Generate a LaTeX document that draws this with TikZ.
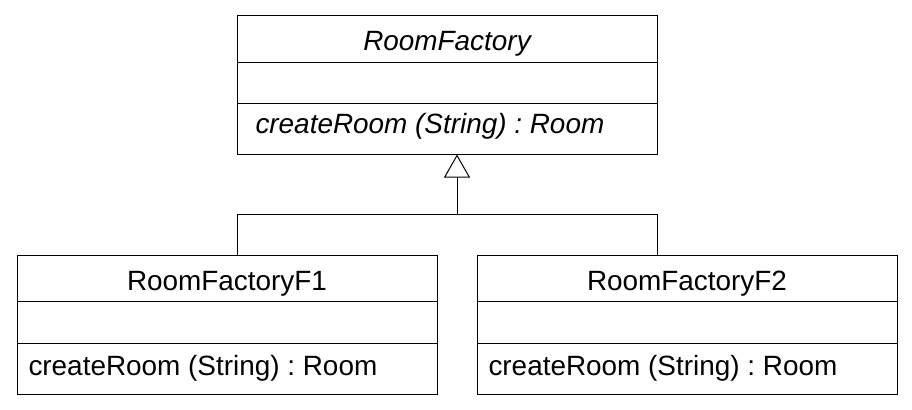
\documentclass[tikz,border=0pt]{standalone}
\usepackage{fontspec}
\setmainfont{Liberation Sans}
\usetikzlibrary{arrows.meta}
\begin{document}
\frenchspacing
\begin{tikzpicture}[x=1bp,y=1bp,line width=1bp,
  classbox/.style={draw,rectangle,inner sep=0pt,minimum width=420bp,minimum height=139bp,anchor=north west},
  lbl/.style={inner sep=0pt,font=\fontsize{28}{32}\selectfont\frenchspacing},
  inh/.style={-{Triangle[open,width=26bp,length=23bp]}}]
\useasboundingbox (0,0) rectangle (912,-409);
% top class
\node[classbox] (top) at (237,-14.5) {};
\draw (237,-62) coordinate (t1) -- (657,-62);
\draw (237,-103.5) coordinate (t2) -- (657,-103.5);
\node[lbl,anchor=base] (tname) at (447,-50) {\itshape RoomFactory};
\node[lbl,anchor=base west] (top op) at (255,-133) {\itshape createRoom (String) : Room};
% left class
\node[classbox] (f1) at (17,-254.5) {};
\draw (17,-301.5) -- (437,-301.5);
\draw (17,-343.5) -- (437,-343.5);
\node[lbl,anchor=base] (f1name) at (227,-290) {RoomFactoryF1};
\node[lbl,anchor=base west] (f1op) at (28,-375) {createRoom (String) : Room};
% right class
\node[classbox] (f2) at (477,-254.5) {};
\draw (477,-301.5) -- (897,-301.5);
\draw (477,-343.5) -- (897,-343.5);
\node[lbl,anchor=base] (f2name) at (687,-290) {RoomFactoryF2};
\node[lbl,anchor=base west] (f2op) at (488,-375) {createRoom (String) : Room};
% inheritance
\coordinate (j) at (457,-214);
\coordinate (jl) at (237,-214);
\coordinate (jr) at (657,-214);
\draw (jl |- f1.north) -- (jl) -- (jr) -- (jr |- f2.north);
\draw[inh] (j) -- (j |- top.south);
\end{tikzpicture}
\end{document}
